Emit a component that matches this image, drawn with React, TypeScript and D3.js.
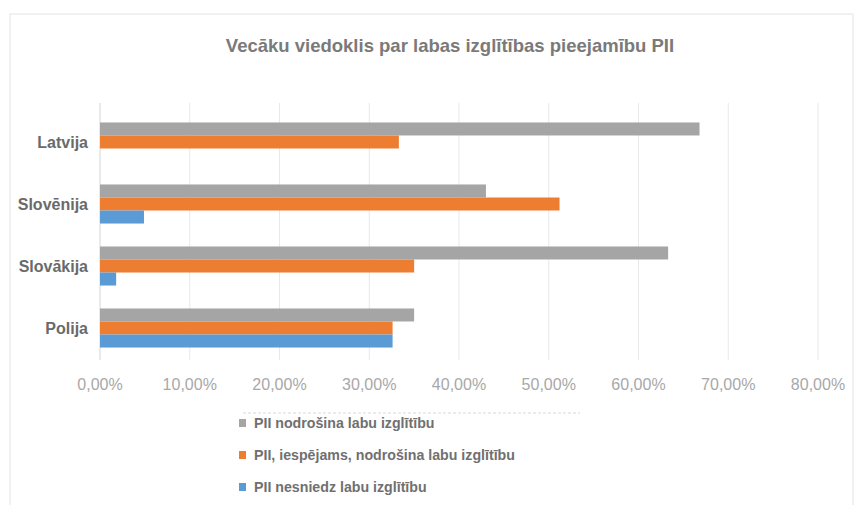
import React from "react";
import * as d3 from "d3";

const categories = ["Latvija", "Slovēnija", "Slovākija", "Polija"];
const seriesNames = [
  "PII nodrošina labu izglītību",
  "PII, iespējams, nodrošina labu izglītību",
  "PII nesniedz labu izglītību",
];
const seriesColors = ["#a5a5a5", "#ed7d31", "#5b9bd5"];
const valuesGood = [0.668, 0.43, 0.633, 0.35];
const valuesMaybe = [0.333, 0.512, 0.35, 0.326];
const valuesNot = [0.0, 0.049, 0.018, 0.326];
const xTicks = [0, 0.1, 0.2, 0.3, 0.4, 0.5, 0.6, 0.7, 0.8];
const title = "Vecāku viedoklis par labas izglītības pieejamību PII";

const W = 857;
const H = 505;

export default function App() {
  const series = [valuesGood, valuesMaybe, valuesNot];
  const x = d3.scaleLinear().domain([0, 0.8]).range([100, 818]);
  const y = d3
    .scaleBand<string>()
    .domain(categories)
    .range([111, 359])
    .paddingInner(0.37)
    .paddingOuter(0.185);
  const inner = d3
    .scaleBand<number>()
    .domain([0, 1, 2])
    .range([0, y.bandwidth()]);
  const fmt = (v: number) => (v * 100).toFixed(2).replace(".", ",") + "%";
  const font = "'Liberation Sans', Arial, sans-serif";

  return (
    <svg
      width={W}
      height={H}
      style={{ position: "absolute", left: 0, top: 0 }}
      fontFamily={font}
    >
      <rect x={0} y={0} width={W} height={H} fill="#fff" />
      <rect
        x={10}
        y={14}
        width={W - 14}
        height={H}
        fill="#fff"
        stroke="#e3e3e3"
        strokeWidth={1}
      />
      <text
        x={450}
        y={52}
        textAnchor="middle"
        fontSize={18.5}
        fontWeight="bold"
        fill="#7a7a7a"
      >
        {title}
      </text>
      {xTicks.map((t) => (
        <line
          key={"g" + t}
          x1={x(t)}
          x2={x(t)}
          y1={103}
          y2={360}
          stroke={t === 0 ? "#d4d4d4" : "#e8e8e8"}
          strokeWidth={1}
        />
      ))}
      {categories.map((c, ci) =>
        series.map((vals, si) => (
          <rect
            key={c + si}
            x={x(0)}
            y={(y(c) as number) + (inner(si) as number)}
            width={x(vals[ci]) - x(0)}
            height={inner.bandwidth()}
            fill={seriesColors[si]}
          />
        ))
      )}
      {categories.map((c) => (
        <text
          key={"l" + c}
          x={88}
          y={(y(c) as number) + y.bandwidth() / 2}
          dy="0.35em"
          textAnchor="end"
          fontSize={16}
          fontWeight="bold"
          fill="#6a6a6a"
        >
          {c}
        </text>
      ))}
      {xTicks.map((t) => (
        <text
          key={"t" + t}
          x={x(t)}
          y={384}
          dy="0.35em"
          textAnchor="middle"
          fontSize={16}
          fill="#a8a8a8"
        >
          {fmt(t)}
        </text>
      ))}
      <line
        x1={243}
        x2={580}
        y1={413}
        y2={413}
        stroke="#ececec"
        strokeWidth={2}
        strokeDasharray="3 2"
      />
      {seriesNames.map((n, i) => (
        <g key={n} transform={`translate(239, ${423 + i * 32})`}>
          <rect x={0} y={-4} width={7} height={8} fill={seriesColors[i]} />
          <text
            x={15}
            y={0}
            dy="0.35em"
            fontSize={14.2}
            fontWeight="bold"
            fill="#707070"
          >
            {n}
          </text>
        </g>
      ))}
    </svg>
  );
}
